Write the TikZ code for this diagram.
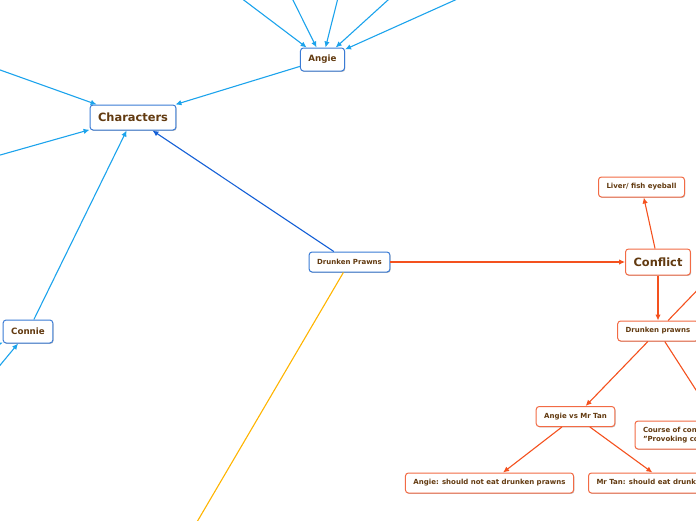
\documentclass[tikz,border=0pt]{standalone}
\usepackage{fontspec}
\setmainfont{DejaVu Sans}
\usetikzlibrary{arrows.meta, shadows}
\definecolor{txtbrown}{RGB}{98,58,16}
\definecolor{boxblue}{RGB}{58,123,213}
\definecolor{boxorange}{RGB}{242,107,69}
\definecolor{lblue}{RGB}{28,163,236}
\definecolor{dblue}{RGB}{21,96,214}
\definecolor{lorange}{RGB}{244,81,30}
\definecolor{lyellow}{RGB}{255,180,0}

\begin{document}
\begin{tikzpicture}[x=1pt, y=-1pt,
  box/.style={draw, rounded corners=3pt, fill=white, line width=1pt, text=txtbrown,
    inner xsep=8pt, inner ysep=0pt, font=\bfseries\fontsize{7}{9}\selectfont, minimum height=20pt,
    drop shadow={shadow xshift=0.7pt, shadow yshift=-0.9pt, opacity=0.25, fill=black}},
  bbox/.style={box, draw=boxblue},
  obox/.style={box, draw=boxorange},
  big/.style={font=\bfseries\fontsize{11.4}{13}\selectfont, minimum height=25pt},
  mid/.style={font=\bfseries\fontsize{8.7}{10}\selectfont, minimum height=23pt},
  tip/.style={-{Latex[length=6pt,width=5.5pt]}},
  lb/.style={draw=lblue, line width=1.1pt, tip},
  db/.style={draw=dblue, line width=1.1pt, tip},
  ol/.style={draw=lorange, line width=1.1pt, tip},
  yl/.style={draw=lyellow, line width=1.1pt}
]
\useasboundingbox (0,0) rectangle (696,520);
\clip (0,0) rectangle (696,520);

% blue side
\node[bbox, big] (chars) at (133,117.5) {Characters};
\node[bbox, mid] (angie) at (322.5,59.5) {Angie};
\node[bbox, mid] (connie) at (28,331.5) {Connie};
\node[bbox] (dp) at (349.5,262) {Drunken Prawns};

% orange side
\node[obox, big, minimum height=26pt] (conflict) at (658,262) {Conflict};
\node[obox] (liver) at (641.5,187) {Liver/ fish eyeball};
\node[obox] (dpr) at (658,331) {Drunken prawns};
\node[obox] (avt) at (575.5,416.5) {Angie vs Mr Tan};
\node[obox] (angie2) at (489.5,483) {Angie: should not eat drunken prawns};
\node[obox, anchor=west] (mrtan) at (588,483) {Mr Tan: should eat drunken prawns};
\node[obox, text width=164pt, align=left, minimum height=28pt] (course) at (725,435)
  {Course of conflict:\\"Provoking conflict"};

% off-page ends
\coordinate (a1) at (204,-30);
\coordinate (a2) at (278,-30);
\coordinate (a3) at (345,-30);
\coordinate (a4) at (421,-30);
\coordinate (a5) at (522,-30);
\coordinate (c1) at (-67,46);
\coordinate (c2) at (-67,174);
\coordinate (k1) at (-42,416);
\coordinate (k2) at (-72,375);
\coordinate (y1) at (160,585);
\coordinate (r1) at (760,225);

\foreach \p in {a1,a2,a3,a4,a5}
  \draw[lb] (\p) -- (angie);
\draw[lb] (angie) -- (chars);
\draw[lb] (c1) -- (chars);
\draw[lb] (c2) -- (chars);
\draw[lb] (connie) -- (chars);
\draw[lb] (k1) -- (connie);
\draw[lb] (k2) -- (connie);
\draw[db] (dp) -- (chars);
\draw[yl] (dp) -- (y1);

\draw[ol] (dp) -- (conflict);
\draw[ol] (conflict) -- (liver);
\draw[ol] (conflict) -- (dpr);
\draw[ol] (dpr) -- (r1);
\draw[ol] (dpr) -- (avt);
\draw[ol] (dpr) -- (course);
\draw[ol] (avt) -- (angie2);
\draw[ol] (avt) -- (mrtan);
\end{tikzpicture}
\end{document}
